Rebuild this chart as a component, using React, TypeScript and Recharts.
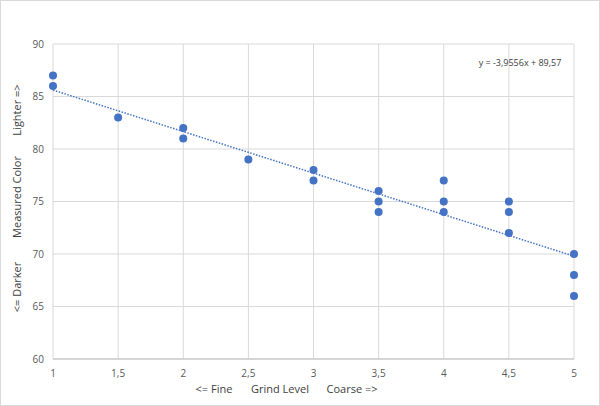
import { ScatterChart, Scatter, XAxis, YAxis, CartesianGrid, ReferenceLine } from 'recharts';

// grind levels and measured colour readings
const grindLevels = [1, 1, 1.5, 2, 2, 2.5, 3, 3, 3.5, 3.5, 3.5, 4, 4, 4, 4.5, 4.5, 4.5, 5, 5, 5];
const measuredColor = [87, 86, 83, 82, 81, 79, 78, 77, 76, 75, 74, 77, 75, 74, 75, 74, 72, 70, 68, 66];

const xTicks = [1, 1.5, 2, 2.5, 3, 3.5, 4, 4.5, 5];
const yTicks = [60, 65, 70, 75, 80, 85, 90];

// linear trendline as printed on the chart
const trendSlope = -3.9556;
const trendIntercept = 89.57;
const trendLabel = 'y = -3,9556x + 89,57';

const points = grindLevels.map((x, i) => ({ x, y: measuredColor[i] }));
const trendStart = { x: 1, y: trendIntercept + trendSlope * 1 };
const trendEnd = { x: 5, y: trendIntercept + trendSlope * 5 };

const BLUE = '#4472C4';
const FONT = '"Open Sans", "Noto Sans", sans-serif';

const fmt = (v: number) => String(v).replace('.', ',');

const Dot = (props: any) => <circle cx={props.cx} cy={props.cy} r={4} fill={BLUE} />;

const XTitle = (props: any) => {
  const { viewBox } = props;
  const y = viewBox.y + 34;
  const base = viewBox.x;
  return (
    <g fontFamily={FONT} fontSize={11} fill="#404040">
      <text x={base + 161} y={y} textAnchor="middle">{'<= Fine'}</text>
      <text x={base + 227} y={y} textAnchor="middle">Grind Level</text>
      <text x={base + 299} y={y} textAnchor="middle">{'Coarse =>'}</text>
    </g>
  );
};

const YTitle = () => {
  const x = 21;
  return (
    <g fontFamily={FONT} fontSize={11} fill="#404040">
      <text x={x} y={110} textAnchor="middle" transform={`rotate(-90 ${x} 110)`}>{'Lighter =>'}</text>
      <text x={x} y={197} textAnchor="middle" transform={`rotate(-90 ${x} 197)`}>Measured Color</text>
      <text x={x} y={287} textAnchor="middle" transform={`rotate(-90 ${x} 287)`}>{'<= Darker'}</text>
    </g>
  );
};

export default function App() {
  return (
    <div
      style={{
        position: 'absolute',
        left: 0,
        top: 0,
        width: 600,
        height: 406,
        background: '#fff',
        border: '1px solid #d9d9d9',
        boxSizing: 'border-box',
      }}
    >
      <div style={{ position: 'absolute', left: -1, top: -1 }}>
        <ScatterChart width={600} height={406} margin={{ top: 44, right: 26, left: 0, bottom: 0 }}>
          <CartesianGrid stroke="#d9d9d9" />
          <XAxis
            type="number"
            dataKey="x"
            domain={[1, 5]}
            ticks={xTicks}
            tickFormatter={fmt}
            height={47}
            tickLine={false}
            axisLine={{ stroke: '#bfbfbf' }}
            tick={{ fill: '#595959', fontSize: 10, fontFamily: FONT }}
            tickMargin={5}
            label={<XTitle />}
          />
          <YAxis
            type="number"
            dataKey="y"
            domain={[60, 90]}
            ticks={yTicks}
            width={53}
            tickLine={false}
            axisLine={false}
            tick={{ fill: '#595959', fontSize: 10, fontFamily: FONT }}
            tickMargin={3}
          />
          <ReferenceLine
            segment={[trendStart, trendEnd]}
            stroke={BLUE}
            strokeWidth={1.5}
            strokeDasharray="1.5 1.5"
            ifOverflow="visible"
          />
          <Scatter data={points} shape={<Dot />} isAnimationActive={false} />
        </ScatterChart>
        <svg width={600} height={406} style={{ position: 'absolute', left: 0, top: 0, pointerEvents: 'none' }}>
          <YTitle />
          <text x={520} y={66} textAnchor="middle" fontFamily={FONT} fontSize={9} fill="#404040">
            {trendLabel}
          </text>
        </svg>
      </div>
    </div>
  );
}
